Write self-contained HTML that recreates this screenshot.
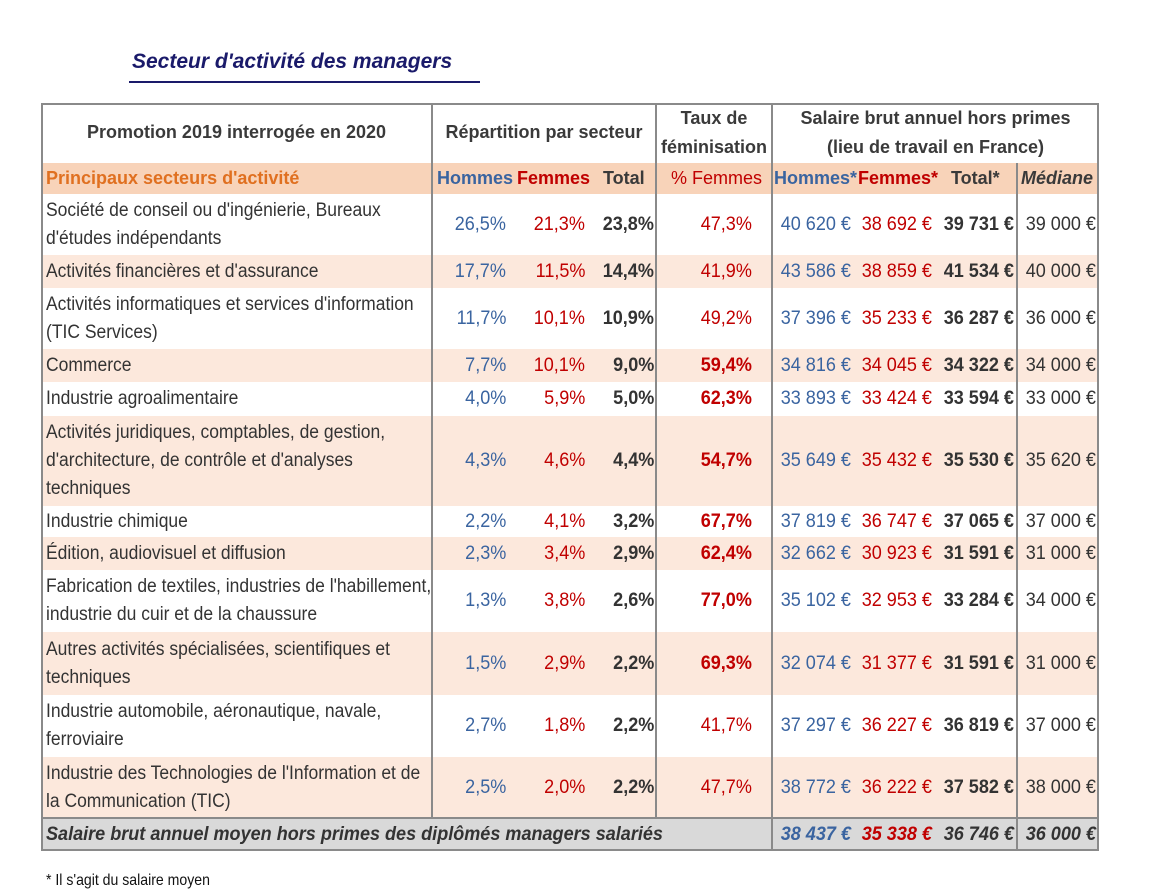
<!DOCTYPE html>
<html><head><meta charset="utf-8"><style>
body{margin:0;width:1150px;height:896px;background:#fff;position:relative;overflow:hidden;font-family:"Liberation Sans",sans-serif;color:#333}
.a{position:absolute}
.r{position:absolute;left:41px;width:1058px}
.r span{position:absolute;top:50%;transform:translateY(-50%) scaleX(0.95);transform-origin:right center;white-space:nowrap;font-size:19px}
.r span.lb{left:5px;line-height:28px;transform:translateY(-50%) scaleX(0.92);transform-origin:left center}
.b{color:#3a64a0}.rd{color:#c00000}.k{font-weight:bold;color:#333}
.hd{font-family:"Liberation Sans",sans-serif;font-weight:bold;font-size:18px;color:#3a3a3a;text-align:center;line-height:29px}
.vl{position:absolute;width:2px;background:#8a8a8a}
</style></head><body>
<div class="a" style="left:132px;top:50px;font:italic bold 21px 'Liberation Sans',sans-serif;color:#1a1a6a">Secteur d'activité des managers</div>
<div class="a" style="left:129px;top:81px;width:351px;height:2px;background:#1a1a6a"></div>

<div class="r" style="top:163px;height:31px;background:#f8d3b9"></div>
<div class="a hd" style="left:41px;top:118px;width:391px">Promotion 2019 interrogée en 2020</div>
<div class="a hd" style="left:432px;top:118px;width:224px">Répartition par secteur</div>
<div class="a hd" style="left:656px;top:104px;width:116px">Taux de<br>féminisation</div>
<div class="a hd" style="left:772px;top:104px;width:327px">Salaire brut annuel hors primes<br>(lieu de travail en France)</div>
<div class="a hd" style="left:46px;top:164px;color:#e07020;text-align:left">Principaux secteurs d'activité</div>
<div class="a hd" style="left:437px;top:164px;color:#3a64a0">Hommes</div>
<div class="a hd" style="left:517px;top:164px;color:#c00000">Femmes</div>
<div class="a hd" style="left:603px;top:164px">Total</div>
<div class="a" style="left:671px;top:164px;font:18px 'Liberation Sans',sans-serif;line-height:29px;color:#c00000">% Femmes</div>
<div class="a hd" style="left:774px;top:164px;color:#3a64a0">Hommes*</div>
<div class="a hd" style="left:858px;top:164px;color:#c00000">Femmes*</div>
<div class="a hd" style="left:951px;top:164px">Total*</div>
<div class="a hd" style="left:1021px;top:164px;font-style:italic">Médiane</div>

<div class="r" style="top:194px;height:61px"><span class="lb">Société de conseil ou d'ingénierie, Bureaux<br>d'études indépendants</span><span class="b" style="right:593px">26,5%</span><span class="rd" style="right:514px">21,3%</span><span class="k" style="right:445px">23,8%</span><span class="rd" style="right:347px">47,3%</span><span class="b" style="right:248px">40 620 €</span><span class="rd" style="right:167px">38 692 €</span><span class="k" style="right:85px">39 731 €</span><span style="right:3px">39 000 €</span></div>
<div class="r" style="top:255px;height:33px;background:#fce8dc"><span class="lb">Activités financières et d'assurance</span><span class="b" style="right:593px">17,7%</span><span class="rd" style="right:514px">11,5%</span><span class="k" style="right:445px">14,4%</span><span class="rd" style="right:347px">41,9%</span><span class="b" style="right:248px">43 586 €</span><span class="rd" style="right:167px">38 859 €</span><span class="k" style="right:85px">41 534 €</span><span style="right:3px">40 000 €</span></div>
<div class="r" style="top:288px;height:61px"><span class="lb">Activités informatiques et services d'information<br>(TIC Services)</span><span class="b" style="right:593px">11,7%</span><span class="rd" style="right:514px">10,1%</span><span class="k" style="right:445px">10,9%</span><span class="rd" style="right:347px">49,2%</span><span class="b" style="right:248px">37 396 €</span><span class="rd" style="right:167px">35 233 €</span><span class="k" style="right:85px">36 287 €</span><span style="right:3px">36 000 €</span></div>
<div class="r" style="top:349px;height:33px;background:#fce8dc"><span class="lb">Commerce</span><span class="b" style="right:593px">7,7%</span><span class="rd" style="right:514px">10,1%</span><span class="k" style="right:445px">9,0%</span><span class="k" style="right:347px;color:#c00000">59,4%</span><span class="b" style="right:248px">34 816 €</span><span class="rd" style="right:167px">34 045 €</span><span class="k" style="right:85px">34 322 €</span><span style="right:3px">34 000 €</span></div>
<div class="r" style="top:382px;height:34px"><span class="lb">Industrie agroalimentaire</span><span class="b" style="right:593px">4,0%</span><span class="rd" style="right:514px">5,9%</span><span class="k" style="right:445px">5,0%</span><span class="k" style="right:347px;color:#c00000">62,3%</span><span class="b" style="right:248px">33 893 €</span><span class="rd" style="right:167px">33 424 €</span><span class="k" style="right:85px">33 594 €</span><span style="right:3px">33 000 €</span></div>
<div class="r" style="top:416px;height:90px;background:#fce8dc"><span class="lb">Activités juridiques, comptables, de gestion,<br>d'architecture, de contrôle et d'analyses<br>techniques</span><span class="b" style="right:593px">4,3%</span><span class="rd" style="right:514px">4,6%</span><span class="k" style="right:445px">4,4%</span><span class="k" style="right:347px;color:#c00000">54,7%</span><span class="b" style="right:248px">35 649 €</span><span class="rd" style="right:167px">35 432 €</span><span class="k" style="right:85px">35 530 €</span><span style="right:3px">35 620 €</span></div>
<div class="r" style="top:506px;height:31px"><span class="lb">Industrie chimique</span><span class="b" style="right:593px">2,2%</span><span class="rd" style="right:514px">4,1%</span><span class="k" style="right:445px">3,2%</span><span class="k" style="right:347px;color:#c00000">67,7%</span><span class="b" style="right:248px">37 819 €</span><span class="rd" style="right:167px">36 747 €</span><span class="k" style="right:85px">37 065 €</span><span style="right:3px">37 000 €</span></div>
<div class="r" style="top:537px;height:33px;background:#fce8dc"><span class="lb">Édition, audiovisuel et diffusion</span><span class="b" style="right:593px">2,3%</span><span class="rd" style="right:514px">3,4%</span><span class="k" style="right:445px">2,9%</span><span class="k" style="right:347px;color:#c00000">62,4%</span><span class="b" style="right:248px">32 662 €</span><span class="rd" style="right:167px">30 923 €</span><span class="k" style="right:85px">31 591 €</span><span style="right:3px">31 000 €</span></div>
<div class="r" style="top:570px;height:62px"><span class="lb">Fabrication de textiles, industries de l'habillement,<br>industrie du cuir et de la chaussure</span><span class="b" style="right:593px">1,3%</span><span class="rd" style="right:514px">3,8%</span><span class="k" style="right:445px">2,6%</span><span class="k" style="right:347px;color:#c00000">77,0%</span><span class="b" style="right:248px">35 102 €</span><span class="rd" style="right:167px">32 953 €</span><span class="k" style="right:85px">33 284 €</span><span style="right:3px">34 000 €</span></div>
<div class="r" style="top:632px;height:63px;background:#fce8dc"><span class="lb">Autres activités spécialisées, scientifiques et<br>techniques</span><span class="b" style="right:593px">1,5%</span><span class="rd" style="right:514px">2,9%</span><span class="k" style="right:445px">2,2%</span><span class="k" style="right:347px;color:#c00000">69,3%</span><span class="b" style="right:248px">32 074 €</span><span class="rd" style="right:167px">31 377 €</span><span class="k" style="right:85px">31 591 €</span><span style="right:3px">31 000 €</span></div>
<div class="r" style="top:695px;height:62px"><span class="lb">Industrie automobile, aéronautique, navale,<br>ferroviaire</span><span class="b" style="right:593px">2,7%</span><span class="rd" style="right:514px">1,8%</span><span class="k" style="right:445px">2,2%</span><span class="rd" style="right:347px">41,7%</span><span class="b" style="right:248px">37 297 €</span><span class="rd" style="right:167px">36 227 €</span><span class="k" style="right:85px">36 819 €</span><span style="right:3px">37 000 €</span></div>
<div class="r" style="top:757px;height:61px;background:#fce8dc"><span class="lb">Industrie des Technologies de l'Information et de<br>la Communication (TIC)</span><span class="b" style="right:593px">2,5%</span><span class="rd" style="right:514px">2,0%</span><span class="k" style="right:445px">2,2%</span><span class="rd" style="right:347px">47,7%</span><span class="b" style="right:248px">38 772 €</span><span class="rd" style="right:167px">36 222 €</span><span class="k" style="right:85px">37 582 €</span><span style="right:3px">38 000 €</span></div>
<div class="r" style="top:818px;height:33px;background:#d9d9d9"><span class="lb" style="font-weight:bold;font-style:italic;transform:translateY(-50%) scaleX(0.95)">Salaire brut annuel moyen hors primes des diplômés managers salariés</span><span class="b" style="right:248px;font-weight:bold;font-style:italic">38 437 €</span><span class="rd" style="right:167px;font-weight:bold;font-style:italic">35 338 €</span><span style="right:85px;font-weight:bold;font-style:italic">36 746 €</span><span style="right:3px;font-weight:bold;font-style:italic">36 000 €</span></div>

<div class="a" style="left:41px;top:103px;width:1054px;height:744px;border:2px solid #8a8a8a"></div>
<div class="a" style="left:41px;top:817px;width:1058px;height:2px;background:#8a8a8a"></div>
<div class="vl" style="left:431px;top:103px;height:715px"></div>
<div class="vl" style="left:655px;top:103px;height:715px"></div>
<div class="vl" style="left:771px;top:103px;height:748px"></div>
<div class="vl" style="left:1016px;top:163px;height:688px"></div>

<div class="a" style="left:46px;top:872px;font-size:16px;color:#111;transform:scaleX(0.88);transform-origin:left">* Il s'agit du salaire moyen</div>
</body></html>
